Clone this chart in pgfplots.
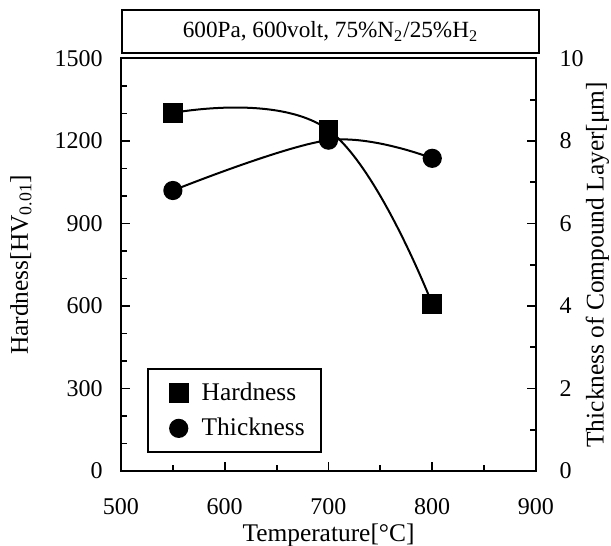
\documentclass[border=0pt]{standalone}
\usepackage{fontspec}
\setmainfont{Liberation Serif}
\usepackage{pgfplots}
\pgfplotsset{compat=1.18}

% hardness [HV0.01] and layer thickness [um] vs. temperature
\pgfplotstableread{
T    H
550  1302
700  1240
800  607
}\hardness
\pgfplotstableread{
T    d
550  6.80
700  8.02
800  7.58
}\thickness

\begin{document}
\begin{tikzpicture}
\pgfplotsset{
  base/.style={
    scale only axis, width=207.5pt, height=206.25pt,
    xmin=500, xmax=900,
    axis line style={line width=1pt},
    every tick/.style={black, line width=0.9pt},
    major tick length=4.5pt, minor tick length=3pt,
    tick align=inside,
    /pgf/number format/assume math mode=true,
    /pgf/number format/1000 sep={},
    tick label style={font=\fontsize{12}{14}\selectfont},
    label style={font=\fontsize{12.7}{15}\selectfont},
  },
}
\begin{axis}[base,
  clip=false,
  ymin=0, ymax=1500,
  ytick={0,300,...,1500}, minor y tick num=2,
  xtick={500,600,...,900}, minor x tick num=1,
  xtick pos=bottom, ytick pos=left,
  xticklabel style={yshift=-10.3pt},
  yticklabel style={xshift=-5.6pt},
  xlabel={Temperature[°C]},
  xlabel style={at={(rel axis cs:0.5,0)}, anchor=base, yshift=-35pt},
  ylabel={Hardness[HV\textsubscript{0.01}]},
  ylabel style={at={([xshift=-50pt]rel axis cs:0,0.5)}, anchor=center},
]
\coordinate (sw) at (rel axis cs:0,0);
\addplot[black, line width=1pt, smooth, tension=0.7, mark=square*, mark size=4.4pt,
  mark options={solid}] table[x=T, y=H] {\hardness};
\node[draw, line width=1pt, minimum width=208.5pt, minimum height=21.5pt,
  anchor=south, inner sep=0pt, font=\fontsize{11.6}{14}\selectfont]
  at ([xshift=1pt, yshift=2.25pt]rel axis cs:0.5,1)
  {600Pa, 600volt, 75\%N\textsubscript{2}/25\%H\textsubscript{2}};
\end{axis}

\begin{axis}[base,
  ymin=0, ymax=10,
  ytick={0,2,...,10}, minor y tick num=1,
  axis x line=none, axis y line*=right,
  tick align=inside,
  yticklabel style={xshift=8.3pt},
  ylabel={Thickness of Compound Layer[μm]},
  ylabel style={at={([xshift=30.75pt]rel axis cs:1,0.5)}, anchor=center},
  legend style={at={(rel axis cs:0.062,0.0444)}, anchor=south west,
    draw=black, line width=1pt, font=\fontsize{12.7}{15}\selectfont,
    inner xsep=6pt, inner ysep=4.5pt, row sep=3.5pt,
    legend cell align=left},
  legend image code/.code={
    \path (0pt,0pt) (18pt,0pt);
    \draw[#1, only marks] plot coordinates {(9pt,0pt)};
  },
]
\addlegendimage{black, mark=square*, mark size=4.4pt}
\addlegendentry{Hardness}
\addplot[black, line width=1pt, smooth, tension=0.6, mark=*, mark size=4.3pt]
  table[x=T, y=d] {\thickness};
\addlegendentry{Thickness}
\end{axis}
\pgfresetboundingbox
\path ([shift={(-60.5pt,-37.5pt)}]sw) rectangle ([shift={(245pt,235.5pt)}]sw);
\end{tikzpicture}
\end{document}
